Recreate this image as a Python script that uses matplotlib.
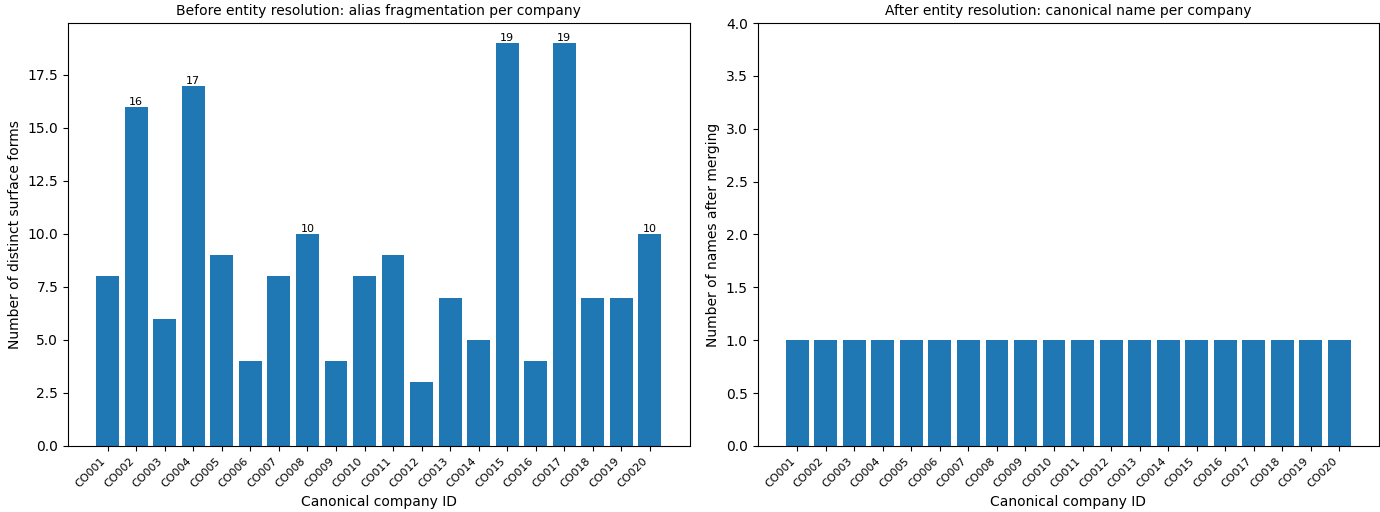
import numpy as np
import matplotlib
matplotlib.use("Agg")
import matplotlib.pyplot as plt

# data ------------------------------------------------------------------------
companies = ["CO%03d" % i for i in range(1, 21)]
alias_counts = [8, 16, 6, 17, 9, 4, 8, 10, 4, 8, 9, 3, 7, 5, 19, 4, 19, 7, 7, 10]
merged_counts = [1] * 20

# plot ------------------------------------------------------------------------
fig, (ax1, ax2) = plt.subplots(1, 2, figsize=(13.8, 5.12), dpi=100)
fig.subplots_adjust(left=0.0493, right=0.9993, top=0.955, bottom=0.129, wspace=0.1095)

bars = ax1.bar(companies, alias_counts, color="#1f77b4")
for b, v in zip(bars, alias_counts):
    if v >= 10:
        ax1.text(b.get_x() + b.get_width() / 2, v, str(v),
                 ha="center", va="bottom", fontsize=8)
ax1.set_title("Before entity resolution: alias fragmentation per company", fontsize=10)
ax1.set_xlabel("Canonical company ID")
ax1.set_ylabel("Number of distinct surface forms")
ax1.tick_params(axis="x", labelsize=8)
plt.setp(ax1.get_xticklabels(), rotation=45, ha="right")

ax2.bar(companies, merged_counts, color="#1f77b4")
ax2.set_ylim(0, 4)
ax2.set_title("After entity resolution: canonical name per company", fontsize=10)
ax2.set_xlabel("Canonical company ID")
ax2.set_ylabel("Number of names after merging")
ax2.tick_params(axis="x", labelsize=8)
plt.setp(ax2.get_xticklabels(), rotation=45, ha="right")

plt.savefig("out.png")
